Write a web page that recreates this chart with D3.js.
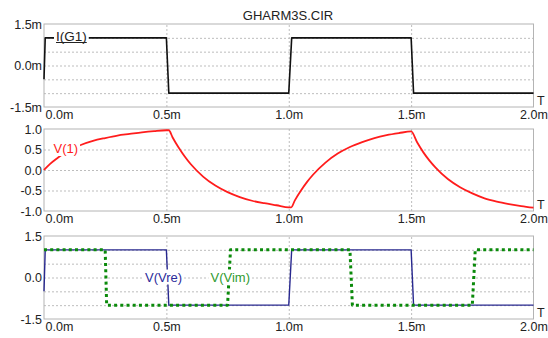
<!DOCTYPE html>
<html>
<head>
<meta charset="utf-8">
<script src="https://cdn.jsdelivr.net/npm/d3@7"></script>
<style>
  html, body { margin: 0; padding: 0; background: #fff; }
  svg { display: block; font-family: "Liberation Sans", Arial, sans-serif; }
</style>
</head>
<body>
<svg id="chart" width="548" height="338"></svg>
<script>
// Time axis (ms) and its tick labels
const timeTicks = [0, 0.5, 1.0, 1.5, 2.0];
const timeTickLabels = ["0.0m", "0.5m", "1.0m", "1.5m", "2.0m"];

// I(G1): square-wave source current (mA)
const iG1Time = [0, 0.005, 0.5, 0.51, 1.0, 1.012, 1.5, 1.51, 2.0];
const iG1 = [-0.5, 1.0, 1.0, -1.0, -1.0, 1.0, 1.0, -1.0, -1.0];

// V(1): capacitor node voltage (V)
const v1Time = [0, 0.025, 0.05, 0.075, 0.1, 0.15, 0.2, 0.25, 0.3, 0.35, 0.4, 0.45, 0.5,
  0.51, 0.525, 0.55, 0.575, 0.6, 0.65, 0.7, 0.75, 0.8, 0.85, 0.9, 0.95, 1.0,
  1.01, 1.025, 1.05, 1.075, 1.1, 1.15, 1.2, 1.25, 1.3, 1.35, 1.4, 1.45, 1.5,
  1.525, 1.55, 1.575, 1.6, 1.65, 1.7, 1.75, 1.8, 1.85, 1.9, 1.95, 2.0];
const v1 = [0, 0.15, 0.27, 0.38, 0.47, 0.61, 0.71, 0.78, 0.84, 0.88, 0.92, 0.95, 0.97,
  0.97, 0.80, 0.55, 0.33, 0.14, -0.16, -0.38, -0.54, -0.66, -0.75, -0.81, -0.86, -0.91,
  -0.91, -0.74, -0.50, -0.29, -0.11, 0.18, 0.40, 0.56, 0.68, 0.78, 0.85, 0.90, 0.94,
  0.67, 0.43, 0.23, 0.06, -0.22, -0.42, -0.57, -0.69, -0.77, -0.83, -0.88, -0.92];

// V(Vre) and V(Vim): in-phase and quadrature square waves (V)
const vreTime = [0, 0.005, 0.5, 0.51, 1.0, 1.012, 1.5, 1.51, 2.0];
const vre = [-0.5, 1.0, 1.0, -1.0, -1.0, 1.0, 1.0, -1.0, -1.0];
const vimTime = [0, 0.25, 0.256, 0.75, 0.762, 1.25, 1.26, 1.75, 1.762, 2.0];
const vim = [1.0, 1.0, -1.0, -1.0, 1.0, 1.0, -1.0, -1.0, 1.0, 1.0];

// Per-panel y tick values/labels and grid values
const topTicks = [1.5, 0, -1.5];
const topTickLabels = ["1.5m", "0.0m", "-1.5m"];
const midTicks = [1.0, 0.5, 0, -0.5, -1.0];
const midTickLabels = ["1.0", "0.5", "0.0", "-0.5", "-1.0"];
const botTicks = [1.5, 0, -1.5];
const botTickLabels = ["1.5", "0.0", "-1.5"];
const gridOuter = [1.0, 0.5, 0, -0.5, -1.0];
const gridMid = [0.5, 0, -0.5];
const gridTime = [0.5, 1.0, 1.5];

const svg = d3.select("#chart");
const left = 44, right = 533.5;
const x = d3.scaleLinear().domain([0, 2]).range([left, right]);

const panels = [
  { top: 24, bottom: 107, domain: [-1.5, 1.5], ticks: topTicks, labels: topTickLabels, grid: gridOuter },
  { top: 129, bottom: 211, domain: [-1, 1], ticks: midTicks, labels: midTickLabels, grid: gridMid },
  { top: 236, bottom: 319, domain: [-1.5, 1.5], ticks: botTicks, labels: botTickLabels, grid: gridOuter }
];

const GRID = "#bdbdbd", FRAME = "#b4b4b4", TXT = "#222";

panels.forEach(p => {
  p.y = d3.scaleLinear().domain(p.domain).range([p.bottom, p.top]);
  const g = svg.append("g");

  // horizontal grid
  g.append("g")
    .call(d3.axisLeft(p.y).tickValues(p.grid).tickSize(-(right - left)).tickFormat(""))
    .attr("transform", `translate(${left},0)`)
    .call(s => s.select(".domain").remove())
    .call(s => s.selectAll("line").attr("stroke", GRID).attr("stroke-dasharray", "2,2"));

  // vertical grid
  g.append("g")
    .attr("transform", `translate(0,${p.bottom})`)
    .call(d3.axisBottom(x).tickValues(gridTime).tickSize(-(p.bottom - p.top)).tickFormat(""))
    .call(s => s.select(".domain").remove())
    .call(s => s.selectAll("line").attr("stroke", GRID).attr("stroke-dasharray", "2,2"));

  // frame
  g.append("rect")
    .attr("x", left).attr("y", p.top)
    .attr("width", right - left).attr("height", p.bottom - p.top)
    .attr("fill", "none").attr("stroke", FRAME).attr("stroke-width", 1);

  // y tick labels
  g.append("g")
    .attr("transform", `translate(${left - 1},0)`)
    .call(d3.axisLeft(p.y).tickValues(p.ticks).tickSize(0).tickPadding(1)
      .tickFormat((d, i) => p.labels[i]))
    .call(s => s.select(".domain").remove())
    .call(s => s.selectAll("text")
      .attr("fill", TXT).attr("font-size", "12.5px")
      .attr("font-family", "Liberation Sans, Arial, sans-serif"));

  // x tick labels
  const xa = g.append("g")
    .attr("transform", `translate(0,${p.bottom})`)
    .call(d3.axisBottom(x).tickValues(timeTicks).tickSize(0).tickPadding(3)
      .tickFormat((d, i) => timeTickLabels[i]))
    .call(s => s.select(".domain").remove())
    .call(s => s.selectAll("text")
      .attr("fill", TXT).attr("font-size", "12.5px")
      .attr("font-family", "Liberation Sans, Arial, sans-serif"));
  xa.selectAll(".tick").filter(d => d === 0).select("text")
    .attr("text-anchor", "start").attr("x", 1);

  // axis variable name
  g.append("text")
    .attr("x", 537).attr("y", p.bottom - 2.5)
    .attr("font-size", "12.5px").attr("fill", TXT).text("T");
});

// title
svg.append("text")
  .attr("x", 288).attr("y", 19.5)
  .attr("text-anchor", "middle")
  .attr("font-size", "13px").attr("fill", TXT)
  .text("GHARM3S.CIR");

function trace(panel, times, vals, color, width, curve, dash) {
  const line = d3.line()
    .x((d, i) => x(times[i]))
    .y(d => panel.y(d))
    .curve(curve);
  const path = svg.append("path")
    .datum(vals)
    .attr("d", line)
    .attr("fill", "none")
    .attr("stroke", color)
    .attr("stroke-width", width)
    .attr("stroke-linejoin", "round");
  if (dash) path.attr("stroke-dasharray", dash);
  return path;
}

function label(xPos, yBase, text, color, size, underline) {
  const g = svg.append("g");
  const rect = g.append("rect").attr("fill", "#fff");
  const t = g.append("text")
    .attr("x", xPos).attr("y", yBase)
    .attr("font-size", size).attr("fill", color)
    .text(text);
  const b = t.node().getBBox();
  rect.attr("x", b.x - 2).attr("y", b.y).attr("width", b.width + 4).attr("height", b.height);
  if (underline) {
    g.append("line")
      .attr("x1", b.x).attr("x2", b.x + b.width)
      .attr("y1", yBase + 1.5).attr("y2", yBase + 1.5)
      .attr("stroke", color).attr("stroke-width", 1);
  }
}

const [pTop, pMid, pBot] = panels;

trace(pTop, iG1Time, iG1, "#111", 1.6, d3.curveLinear);
label(56, 41, "I(G1)", "#222", "13.5px", true);

trace(pMid, v1Time, v1, "#ff1c1c", 1.8, d3.curveMonotoneX);
label(53.5, 153, "V(1)", "#ff1c1c", "13px", false);

trace(pBot, vreTime, vre, "#28288f", 1.4, d3.curveLinear);
trace(pBot, vimTime, vim, "#0b8a0b", 3, d3.curveLinear, "3,3.2");
label(145, 281.5, "V(Vre)", "#2c2c9a", "13px", false);
label(210.5, 281.5, "V(Vim)", "#2f9a2f", "13px", false);
</script>
</body>
</html>
